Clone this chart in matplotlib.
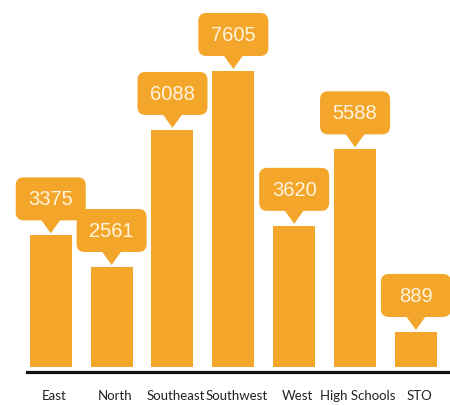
import matplotlib
matplotlib.use("Agg")
import matplotlib.pyplot as plt
import matplotlib.transforms as mtransforms
from matplotlib.patches import FancyBboxPatch, Polygon

categories = ["East", "North", "Southeast", "Southwest", "West", "High Schools", "STO"]
values = [3375, 2561, 6088, 7605, 3620, 5588, 889]

BAR = "#F4A62A"
TXT = "#FFF4DE"

fig = plt.figure(figsize=(4.5, 4.06), dpi=100)
ax = fig.add_axes([27 / 450, 33 / 406, 423 / 450, 373 / 406])

x = list(range(len(categories)))
ax.bar(x, values, width=0.69, color=BAR, zorder=2)

ax.set_xlim(-0.39, 6.56)
ax.set_ylim(-141, 9457)

for s in ["top", "right", "left"]:
    ax.spines[s].set_visible(False)
ax.spines["bottom"].set_linewidth(2.3)
ax.spines["bottom"].set_color("#111111")
ax.set_yticks([])
ax.set_xticks(x)
ax.set_xticklabels(categories, fontsize=9.5, family="Lato", color="#222222")
ax.tick_params(axis="x", length=0, pad=12)
shift = mtransforms.ScaledTranslation(3 / 100, 0, fig.dpi_scale_trans)
for lab in ax.get_xticklabels():
    lab.set_transform(lab.get_transform() + shift)

# callouts (pixel geometry around each bar top)
W, H, PH, PW, GAP = 70, 43, 13, 20, 2
for xi, v in zip(x, values):
    tr = mtransforms.Affine2D() + mtransforms.ScaledTranslation(xi, v, ax.transData)
    box = FancyBboxPatch((-W / 2 + 8, GAP + PH + 8), W - 16, H - 16,
                         boxstyle="round,pad=8", fc=BAR, ec="none",
                         transform=tr, zorder=3, clip_on=False)
    ax.add_patch(box)
    tri = Polygon([(-PW / 2, GAP + PH + 1), (0, GAP), (PW / 2, GAP + PH + 1)],
                  closed=True, fc=BAR, ec="none", transform=tr, zorder=3, clip_on=False)
    ax.add_patch(tri)
    ax.text(0, GAP + PH + H / 2, str(v), transform=tr, ha="center", va="center",
            fontsize=14.5, family="Liberation Sans", color=TXT, zorder=4)

fig.savefig("out.png", dpi=100)
